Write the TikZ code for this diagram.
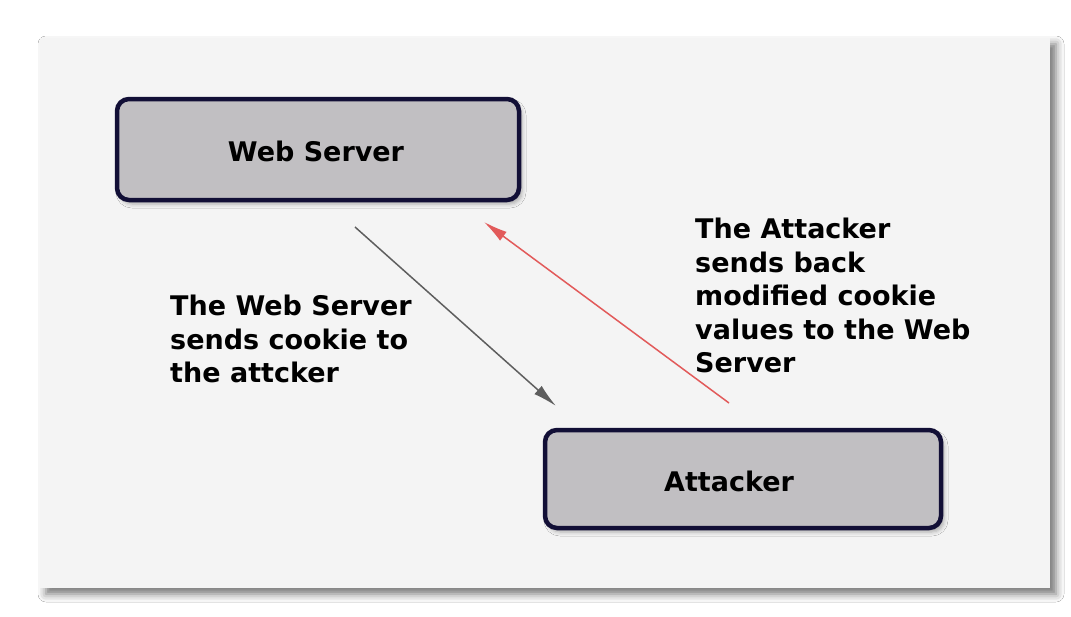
\documentclass[tikz,border=0pt]{standalone}
\usepackage{fontspec}
\setmainfont{DejaVu Sans}
\usetikzlibrary{shadows.blur,arrows.meta}
\definecolor{panelbg}{HTML}{F4F4F4}
\definecolor{boxfill}{HTML}{C1BFC2}
\definecolor{boxline}{HTML}{120F36}
\definecolor{sendline}{HTML}{5E5E5E}
\definecolor{backline}{HTML}{DC8A8A}
\definecolor{backhead}{HTML}{E25A5A}
\tikzset{
  px/.style={x=1pt,y=-1pt},
  panel/.style={fill=panelbg, draw=none,
    blur shadow={shadow xshift=6pt, shadow yshift=-6pt, shadow blur radius=8pt, shadow opacity=55}},
  hostbox/.style={draw=boxline, line width=4.5pt, fill=boxfill, rounded corners=12pt,
    blur shadow={shadow xshift=3pt, shadow yshift=-4pt, shadow blur radius=4pt, shadow opacity=30}},
  caption/.style={font=\bfseries\fontsize{27}{33.5}\selectfont, align=left, anchor=north west, inner sep=0pt},
  boxlabel/.style={font=\bfseries\fontsize{27}{30}\selectfont, anchor=base, inner sep=0pt},
  flow/.style={line width=1.5pt, -{Latex[length=24pt,width=11pt]}}
}
\begin{document}
\begin{tikzpicture}[px]
  % canvas
  \fill[white] (0,0) rectangle (1071,616);
  \useasboundingbox (0,0) rectangle (1071,616);
  % panel
  \path[panel] (40,38) rectangle (1050,588);
  % hosts
  \path[hostbox] (117,99) rectangle (519,200);
  \node[boxlabel] (ws) at (316,161) {Web Server};
  \path[hostbox] (545,430) rectangle (941,528);
  \node[boxlabel] (att) at (729,491) {Attacker};
  % flow endpoints
  \coordinate (wsout) at (355,227);
  \coordinate (attin) at (556,406);
  \coordinate (attout) at (729,403);
  \coordinate (wsin) at (484,222);
  \draw[flow, draw=sendline, color=sendline] (wsout) -- (attin);
  \draw[flow, draw=backline, color=backhead] (attout) -- (wsin);
  % captions
  \node[caption] (c1) at (170,295) {The Web Server\\sends cookie to\\the attcker};
  \node[caption] (c2) at (695,218) {The Attacker\\sends back\\modified cookie\\values to the Web\\Server};
\end{tikzpicture}
\end{document}
